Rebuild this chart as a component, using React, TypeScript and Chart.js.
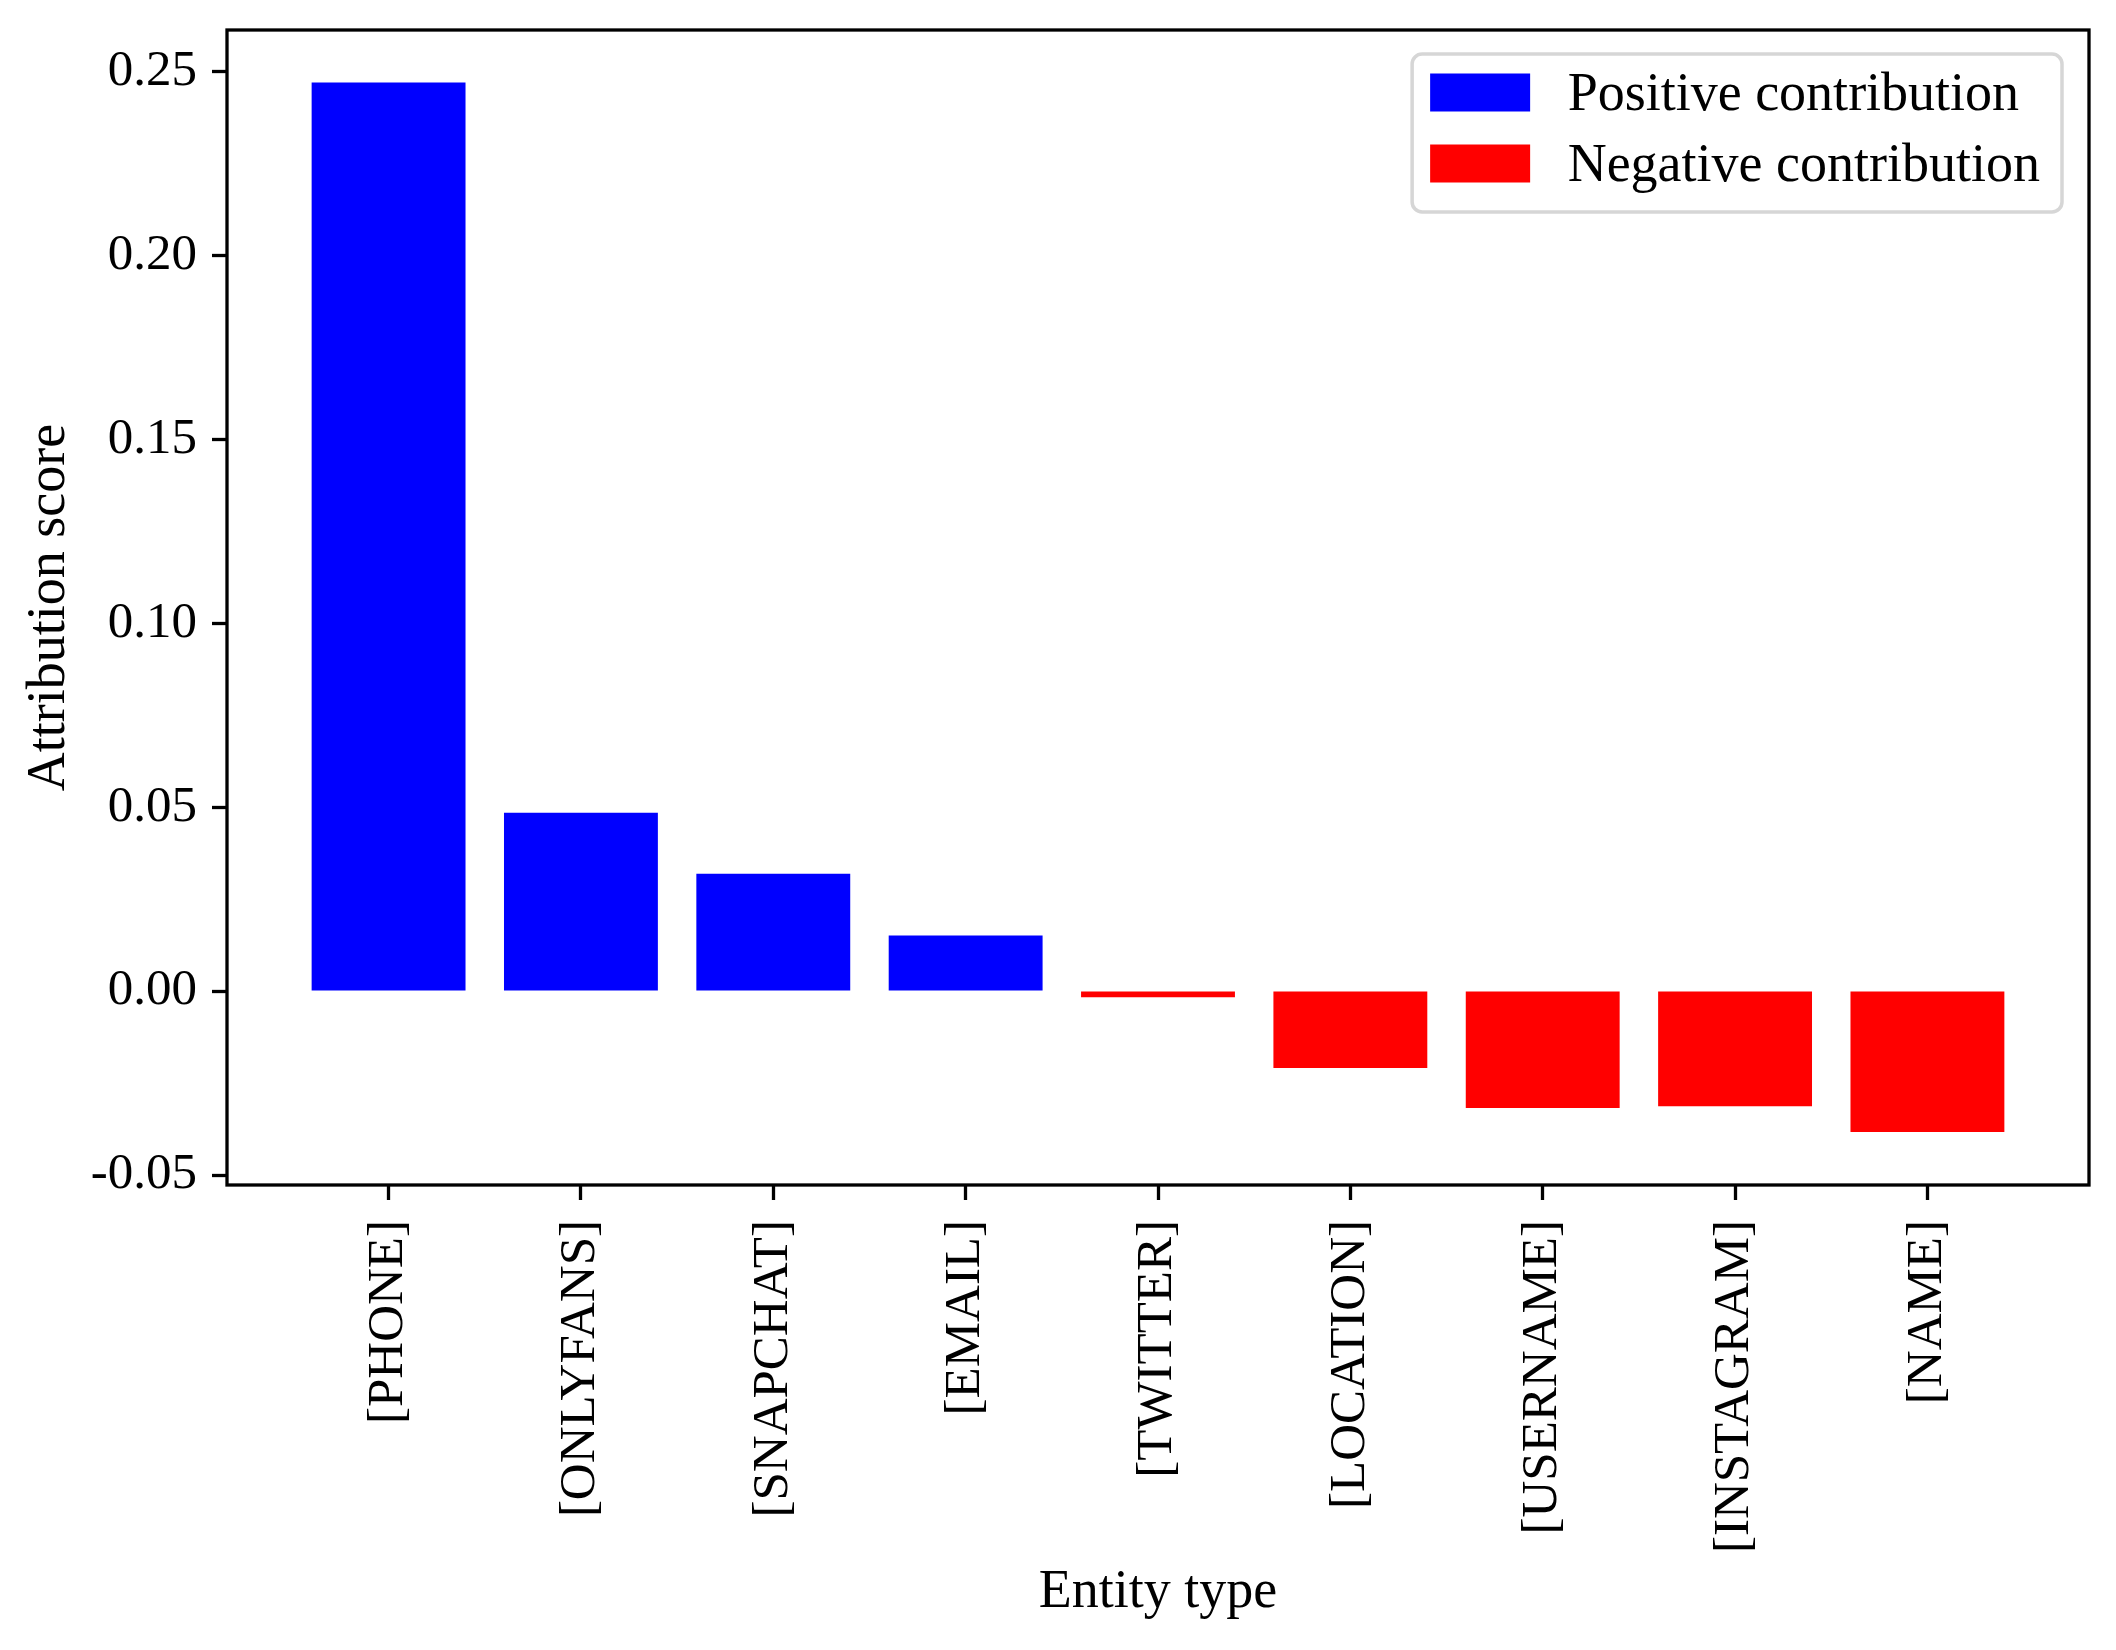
import { useEffect, useRef } from "react";
import { Chart, registerables } from "chart.js";
Chart.register(...registerables);

// data
const categories = [
  "[PHONE]",
  "[ONLYFANS]",
  "[SNAPCHAT]",
  "[EMAIL]",
  "[TWITTER]",
  "[LOCATION]",
  "[USERNAME]",
  "[INSTAGRAM]",
  "[NAME]",
];
const scores = [0.2469, 0.0485, 0.0319, 0.0151, -0.0017, -0.0209, -0.0318, -0.0313, -0.0383];
const yTickValues = [-0.05, 0, 0.05, 0.1, 0.15, 0.2, 0.25];
const yTickLabels = ["-0.05", "0.00", "0.05", "0.10", "0.15", "0.20", "0.25"];
const seriesLabels = ["Positive contribution", "Negative contribution"];
const seriesColors = ["#0000ff", "#ff0000"];
const yMin = -0.0527;
const yMax = 0.2612;

const W = 2116;
const H = 1650;
const FONT = "'Liberation Serif', 'Times New Roman', serif";

// box around the axes + matplotlib-like legend in the upper right
const frameAndLegend = {
  id: "frameAndLegend",
  afterDraw(chart: any) {
    const { ctx, chartArea: a } = chart;
    ctx.save();
    ctx.strokeStyle = "#000";
    ctx.lineWidth = 3.3;
    ctx.strokeRect(a.left, a.top, a.right - a.left, a.bottom - a.top);

    const em = 50;
    ctx.font = `54px ${FONT}`;
    const labels: string[] = chart.data.datasets.map((d: any) => d.label);
    const textW = Math.max(...labels.map((l) => ctx.measureText(l).width));
    const pad = 18;
    const handleW = 2 * em;
    const handleH = 38;
    const gap = 0.75 * em;
    const right = a.right - 27;
    const top = a.top + 24;
    const boxW = pad + handleW + gap + textW + pad + 4;
    const boxH = 158;
    const left = right - boxW;

    ctx.beginPath();
    ctx.roundRect(left, top, boxW, boxH, 10);
    ctx.fillStyle = "rgba(255,255,255,0.85)";
    ctx.fill();
    ctx.lineWidth = 3.5;
    ctx.strokeStyle = "#d6d6d6";
    ctx.stroke();

    const rows = [top + 38.5, top + 109.5];
    ctx.textBaseline = "middle";
    ctx.textAlign = "left";
    chart.data.datasets.forEach((d: any, i: number) => {
      const cy = rows[i];
      ctx.fillStyle = d.backgroundColor;
      ctx.fillRect(left + pad, cy - handleH / 2, handleW, handleH);
      ctx.fillStyle = "#000";
      ctx.fillText(d.label, left + pad + handleW + gap, cy + 3);
    });
    ctx.restore();
  },
};

const App = () => {
  const ref = useRef<null | HTMLCanvasElement>(null);
  useEffect(() => {
    document.body.style.margin = "0";
    if (!ref.current) return;
    const ctx = ref.current.getContext("2d");
    if (!ctx) throw new Error("Canvas Error: Ctx not available");

    const positive = scores.map((v, i) => ({ x: i, y: v })).filter((p) => p.y >= 0);
    const negative = scores.map((v, i) => ({ x: i, y: v })).filter((p) => p.y < 0);

    const tickFont = { family: FONT, size: 51 };
    const titleFont = { family: FONT, size: 54 };
    const grid = {
      display: true,
      offset: false,
      drawOnChartArea: false,
      drawTicks: true,
      tickLength: 15,
      tickWidth: 3.3,
      tickColor: "#000",
    };

    const chart = new Chart(ctx, {
      type: "bar",
      data: {
        datasets: [
          {
            label: seriesLabels[0],
            data: positive,
            backgroundColor: seriesColors[0],
            borderWidth: 0,
            barPercentage: 1,
            categoryPercentage: 0.8,
            grouped: false,
          },
          {
            label: seriesLabels[1],
            data: negative,
            backgroundColor: seriesColors[1],
            borderWidth: 0,
            barPercentage: 1,
            categoryPercentage: 0.8,
            grouped: false,
          },
        ],
      },
      options: {
        responsive: false,
        animation: false,
        devicePixelRatio: 1,
        layout: { padding: { top: 30, right: 27, left: 0, bottom: 0 }, autoPadding: false },
        plugins: { legend: { display: false }, tooltip: { enabled: false } },
        scales: {
          x: {
            type: "linear",
            offset: false,
            min: -0.84,
            max: 8.84,
            afterBuildTicks: (s: any) => {
              s.ticks = categories.map((_, i) => ({ value: i }));
            },
            afterFit: (s: any) => {
              s.height = 465;
              s.paddingLeft = 0;
              s.paddingRight = 0;
            },
            ticks: {
              autoSkip: false,
              minRotation: 90,
              maxRotation: 90,
              padding: 20,
              color: "#000",
              font: tickFont,
              callback: (v: any) => categories[v],
            },
            grid,
            border: { display: false },
            title: {
              display: true,
              text: "Entity type",
              color: "#000",
              font: titleFont,
              padding: { top: 0, bottom: 25 },
            },
          },
          y: {
            type: "linear",
            min: yMin,
            max: yMax,
            afterBuildTicks: (s: any) => {
              s.ticks = yTickValues.map((v) => ({ value: v }));
            },
            afterFit: (s: any) => {
              s.width = 227;
              s.paddingTop = 0;
              s.paddingBottom = 0;
            },
            ticks: {
              padding: 15,
              color: "#000",
              font: tickFont,
              callback: (_v: any, i: number) => yTickLabels[i],
            },
            grid,
            border: { display: false },
            title: {
              display: true,
              text: "Attribution score",
              color: "#000",
              font: titleFont,
              padding: { top: 17, bottom: 0 },
            },
          },
        },
      } as any,
      plugins: [frameAndLegend],
    });
    return () => chart.destroy();
  }, []);

  return (
    <div style={{ width: W, height: H, background: "#fff" }}>
      <canvas ref={ref} width={W} height={H} style={{ display: "block" }}></canvas>
    </div>
  );
};

export default App;
